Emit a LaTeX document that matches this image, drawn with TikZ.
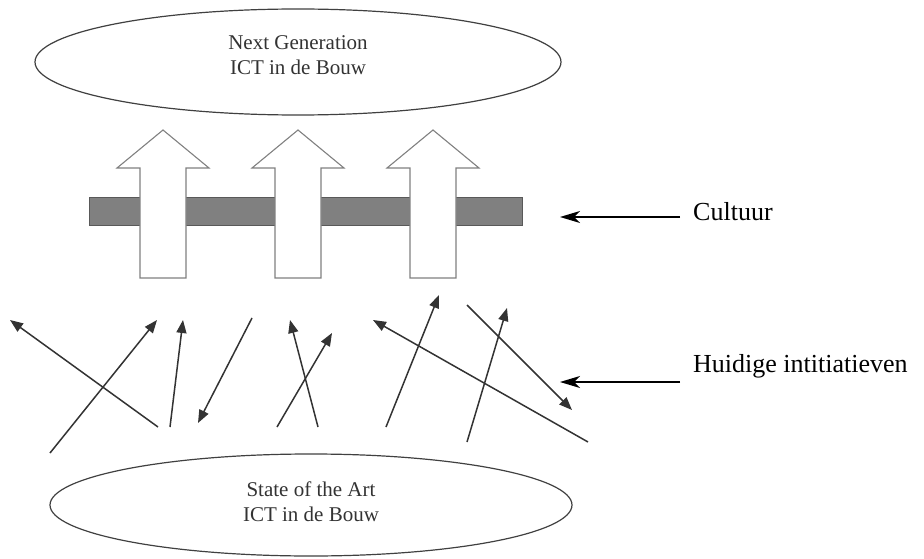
\documentclass[tikz,border=0pt]{standalone}
\usepackage{fontspec}
\setmainfont{Liberation Serif}
\newfontfamily\tnr{Liberation Serif}
\usetikzlibrary{arrows.meta,shapes.geometric}
\begin{document}
\begin{tikzpicture}[x=1pt,y=-1pt,
  oval/.style={ellipse,draw=black!75,line width=1.2pt,fill=white,inner sep=0pt},
  ovaltext/.style={inner sep=0pt,align=center,font=\tnr\fontsize{21}{25}\selectfont,text=black!80},
  blockarrow/.style={draw=black!50,line width=1.1pt,fill=white},
  barstyle/.style={draw=black!65,line width=1pt,fill=black!50},
  thinarrow/.style={draw=black!80,line width=1.5pt,-{Triangle[length=13pt,width=10pt]}},
  labelarrow/.style={draw=black,line width=1.4pt,-{Stealth[length=20pt,width=12pt,inset=6pt]}},
  lbl/.style={anchor=west,inner sep=0pt,font=\tnr\fontsize{26}{30}\selectfont}]
\useasboundingbox (0,0) rectangle (924,559);
% ellipses
\node[oval,minimum width=526pt,minimum height=106pt] (top) at (298,62) {};
\node[ovaltext] (toptext) at ([yshift=6.5pt]top.center) {Next Generation\\ICT in de Bouw};
\node[oval,minimum width=522pt,minimum height=102pt] (bot) at (311,505) {};
\node[ovaltext] (bottext) at ([yshift=3pt]bot.center) {State of the Art\\ICT in de Bouw};
% bar
\draw[barstyle] (89,197) rectangle (522,225);
% block arrows
\foreach \c in {163,298,433}{
  \draw[blockarrow] (\c-23,278) -- (\c-23,168) -- (\c-46,168) -- (\c,130) -- (\c+46,168) -- (\c+23,168) -- (\c+23,278) -- cycle;
}
% thin arrows
\coordinate (a1) at (158,427); \coordinate (a2) at (10,320);
\coordinate (b1) at (50,453);  \coordinate (b2) at (157,320);
\coordinate (c1) at (170,427); \coordinate (c2) at (183,320);
\coordinate (d1) at (252,318); \coordinate (d2) at (198,423);
\coordinate (e1) at (318,427); \coordinate (e2) at (290,320);
\coordinate (f1) at (277,427); \coordinate (f2) at (332,333);
\coordinate (g1) at (386,427); \coordinate (g2) at (439,295);
\coordinate (h1) at (588,442); \coordinate (h2) at (373,320);
\coordinate (i1) at (467,442); \coordinate (i2) at (507,308);
\coordinate (j1) at (467,305); \coordinate (j2) at (572,410);
\foreach \p in {a,b,c,d,e,f,g,h,i,j}{
  \draw[thinarrow] (\p1) -- (\p2);
}
% labels
\node[lbl] (cult) at (693,212) {Cultuur};
\node[lbl] (huid) at (693,366) {Huidige intitiatieven};
\coordinate (cs) at (680,217); \coordinate (ct) at (560,217);
\coordinate (hs) at (680,382); \coordinate (ht) at (560,382);
\draw[labelarrow] (cs) -- (ct);
\draw[labelarrow] (hs) -- (ht);
\end{tikzpicture}
\end{document}
